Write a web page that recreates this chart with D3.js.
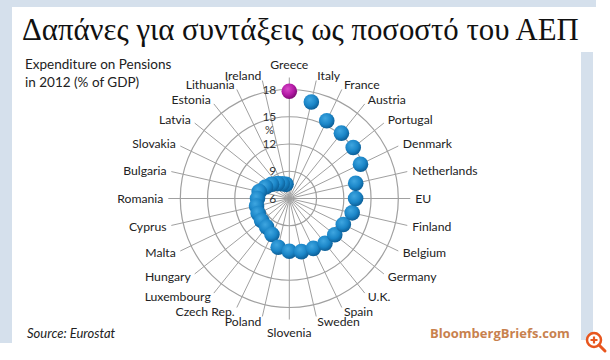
<!DOCTYPE html>
<html><head><meta charset="utf-8">
<script src="https://cdn.jsdelivr.net/npm/d3@7"></script>
<style>
html,body{margin:0;padding:0;background:#fff;}
svg{display:block;}
</style></head>
<body>
<svg id="c" width="610" height="360"></svg>
<script>
const countries = ["Greece","Italy","France","Austria","Portugal","Denmark","Netherlands","EU","Finland","Belgium","Germany","U.K.","Spain","Sweden","Slovenia","Poland","Czech Rep.","Luxembourg","Hungary","Malta","Cyprus","Romania","Bulgaria","Slovakia","Latvia","Estonia","Lithuania","Ireland"];
const values = [17.8,16.9,15.5,15.2,15.0,14.7,13.5,13.3,13.1,12.6,12.4,12.3,12.1,12.0,11.8,11.5,10.4,10.0,9.9,9.8,9.7,9.5,9.4,8.9,8.5,8.1,7.8,7.6];
const ringTicks = [9,12,15,18];
const titleText = "Δαπάνες για συντάξεις ως ποσοστό του ΑΕΠ";
const subtitleLines = ["Expenditure on Pensions","in 2012 (% of GDP)"];
const sourceText = "Source: Eurostat";
const brandText = "BloombergBriefs.com";

const svg = d3.select("#c");
const frame = "#d5e0ec";
// frame
svg.append("rect").attr("x",0).attr("y",0).attr("width",12).attr("height",343).attr("fill",frame);
svg.append("rect").attr("x",0).attr("y",0).attr("width",596).attr("height",7).attr("fill",frame);
svg.append("rect").attr("x",581).attr("y",52).attr("width",12).attr("height",288).attr("fill",frame);

// title
svg.append("text").attr("x",22).attr("y",40)
  .attr("font-family","'Liberation Serif','Times New Roman',serif")
  .attr("font-size",30.8).attr("fill","#111")
  .text(titleText);

svg.append("g").selectAll("text").data(subtitleLines).join("text")
  .attr("x",25).attr("y",(d,i)=>69+i*17.5)
  .attr("font-family","Lato,'Open Sans',sans-serif").attr("font-size",13.5).attr("fill","#222")
  .text(d=>d);

const cx = 289.3, cy = 198.5;
const r = d3.scaleLinear().domain([6,18]).range([0,109]);
const ang = d3.scaleLinear().domain([0,countries.length]).range([0,2*Math.PI]);
const g = svg.append("g").attr("transform",`translate(${cx},${cy})`);

// spokes
g.append("g").selectAll("line").data(countries).join("line")
  .attr("x1",0).attr("y1",0)
  .attr("x2",(d,i)=>121*Math.sin(ang(i))).attr("y2",(d,i)=>-121*Math.cos(ang(i)))
  .attr("stroke","#a0a0a0").attr("stroke-width",1);

// rings
g.append("g").selectAll("circle").data(ringTicks).join("circle")
  .attr("r",d=>r(d)).attr("fill","none").attr("stroke","#a0a0a0").attr("stroke-width",1.2);

// ring labels
const ringLabels = [6].concat(ringTicks);
g.append("g").selectAll("text").data(ringLabels).join("text")
  .attr("x",-13).attr("y",d=>-r(d)).attr("dy","0.35em").attr("text-anchor","end")
  .attr("font-family","Lato,'Open Sans',sans-serif").attr("font-size",12).attr("fill","#333")
  .text(d=>d);
g.append("text").attr("x",-20).attr("y",-r(13.5)).attr("dy","0.35em").attr("text-anchor","middle")
  .attr("font-family","Lato,'Open Sans',sans-serif").attr("font-size",11).attr("fill","#333").text("%");

// country labels
g.append("g").selectAll("text").data(countries).join("text")
  .each(function(d,i){
    const a = ang(i), s = Math.sin(a), c = Math.cos(a);
    const mid = Math.abs(s) < 0.1;
    const R = mid ? 134 : 126;
    d3.select(this).attr("x",R*s).attr("y",-R*c).attr("dy","0.35em")
      .attr("text-anchor", mid ? "middle" : (s>0 ? "start" : "end"));
  })
  .attr("font-family","Lato,'Open Sans',sans-serif").attr("font-size",12.2).attr("fill","#222")
  .text(d=>d);

// gradients
const defs = svg.append("defs");
const gb = defs.append("radialGradient").attr("id","gb").attr("cx","40%").attr("cy","35%").attr("r","65%");
gb.append("stop").attr("offset","0%").attr("stop-color","#3fa6e0");
gb.append("stop").attr("offset","60%").attr("stop-color","#1b86c8");
gb.append("stop").attr("offset","100%").attr("stop-color","#0c5f98");
const gm = defs.append("radialGradient").attr("id","gm").attr("cx","40%").attr("cy","35%").attr("r","65%");
gm.append("stop").attr("offset","0%").attr("stop-color","#d84ac8");
gm.append("stop").attr("offset","60%").attr("stop-color","#b41aa6");
gm.append("stop").attr("offset","100%").attr("stop-color","#7e0c74");

// dots
const pts = values.map((v,i)=>({v,i,name:countries[i]}));
g.append("g").selectAll("circle").data(pts.slice().reverse()).join("circle")
  .attr("cx",d=>r(d.v)*Math.sin(ang(d.i))).attr("cy",d=>-r(d.v)*Math.cos(ang(d.i)))
  .attr("r",7.8).attr("fill",d=>d.name==="Greece"?"url(#gm)":"url(#gb)");

// footer
svg.append("text").attr("x",27).attr("y",338).attr("font-family","Lato,'Open Sans',sans-serif")
  .attr("font-size",13).attr("font-style","italic").attr("fill","#222").text(sourceText);
svg.append("text").attr("x",430).attr("y",338).attr("font-family","'Open Sans',Lato,sans-serif")
  .attr("font-size",13).attr("font-weight","bold").attr("fill","#c8814e").text(brandText);

// magnifier icon
const mg = svg.append("g").attr("transform","translate(594,340)");
mg.append("circle").attr("r",7).attr("fill","#fff").attr("stroke","#e8561e").attr("stroke-width",2.5);
mg.append("path").attr("d","M-3.5,0H3.5M0,-3.5V3.5").attr("stroke","#e8561e").attr("stroke-width",2.2);
mg.append("line").attr("x1",5).attr("y1",5).attr("x2",11).attr("y2",11).attr("stroke","#e8561e").attr("stroke-width",3).attr("stroke-linecap","round");
</script>
</body></html>
